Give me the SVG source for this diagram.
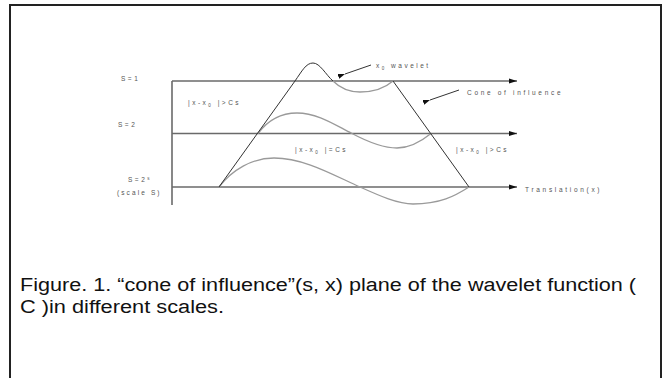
<svg xmlns="http://www.w3.org/2000/svg" width="662" height="378" viewBox="0 0 662 378">
<defs>
<marker id="ah" markerWidth="8" markerHeight="6" refX="8" refY="3" orient="auto" markerUnits="userSpaceOnUse">
<path d="M0,0.5 L8,3 L0,5.5 Z" fill="#111"/>
</marker>
<marker id="ptr" markerWidth="7" markerHeight="5" refX="0" refY="2.5" orient="auto-start-reverse" markerUnits="userSpaceOnUse">
<path d="M7,0 L0,2.5 L7,5 Z" fill="#111"/>
</marker>
</defs>
<style>
.lbl{font-family:"Liberation Sans",Arial,sans-serif;font-size:6.5px;fill:#555;letter-spacing:2.5px;}
.sub{font-size:4.5px;}
.axis{stroke:#6a6a6a;stroke-width:1.6;fill:none;}
.wave{stroke:#9a9a9a;stroke-width:1.3;fill:none;}
.dark{stroke:#333;stroke-width:1;fill:none;}
.cap{font-family:"Liberation Sans",Arial,sans-serif;font-size:18px;fill:#111;}
</style>
<rect width="662" height="378" fill="#fff"/>
<rect x="10" y="5" width="651" height="380" fill="none" stroke="#222" stroke-width="2"/>

<g id="axes">
<line class="axis" x1="172" y1="81" x2="172" y2="205"/>
<line class="axis" x1="172" y1="81" x2="517" y2="81" marker-end="url(#ah)"/>
<line class="axis" x1="172" y1="133.5" x2="517" y2="133.5" marker-end="url(#ah)"/>
<line class="axis" x1="172" y1="187" x2="517" y2="187" marker-end="url(#ah)"/>
</g>

<g id="wavelets">
<path class="dark" d="M295,81 C302,71 306,63 313,63 C320,63 326,75 333,81"/>
<path class="wave" d="M333,81 C340,88 348,92 360,92 C375,92 385,88 393,81"/>
<path class="wave" d="M258,133.5 C268,120 282,113 297,113 C318,113 335,125 352,133.5 C368,142 382,148 397,148 C412,148 423,140 431,133.5"/>
<path class="wave" d="M219,187 C232,170 252,158 274,158 C305,158 335,176 360,187 C380,196 398,204 413,204 C440,204 455,196 469,187"/>
</g>

<g id="connectors">
<line class="dark" x1="219" y1="187" x2="295" y2="81"/>
<line class="dark" x1="393" y1="81" x2="469" y2="187"/>
<line class="dark" x1="371" y1="65" x2="345" y2="74" stroke-width="1.4" marker-end="url(#ptr)"/>
<line class="dark" x1="459" y1="90" x2="430" y2="100" stroke-width="1.4" marker-end="url(#ptr)"/>
</g>

<g id="labels">
<text class="lbl" x="121" y="81">S=1</text>
<text class="lbl" x="118" y="127">S=2</text>
<text class="lbl" x="128" y="182">S=2<tspan class="sub" dy="-2.5">s</tspan></text>
<text class="lbl" x="117" y="195" textLength="45" lengthAdjust="spacing">(scale S)</text>
<text class="lbl" x="188" y="105">|x-x<tspan class="sub" dy="1.5">0</tspan><tspan dy="-1.5"> |&gt;Cs</tspan></text>
<text class="lbl" x="295" y="152">|x-x<tspan class="sub" dy="1.5">0</tspan><tspan dy="-1.5"> |=Cs</tspan></text>
<text class="lbl" x="456" y="152">|x-x<tspan class="sub" dy="1.5">0</tspan><tspan dy="-1.5"> |&gt;Cs</tspan></text>
<text class="lbl" x="376" y="68">x<tspan class="sub" dy="1.5">0</tspan><tspan dy="-1.5"> wavelet</tspan></text>
<text class="lbl" x="467" y="95" textLength="96" lengthAdjust="spacing">Cone of influence</text>
<text class="lbl" x="525" y="192" textLength="77" lengthAdjust="spacing">Translation(x)</text>
</g>

<g id="caption">
<text class="cap" x="20" y="291" textLength="616" lengthAdjust="spacingAndGlyphs">Figure. 1. “cone of influence”(s, x) plane of the wavelet function (</text>
<text class="cap" x="20" y="313" textLength="204" lengthAdjust="spacingAndGlyphs">C )in different scales.</text>
</g>
</svg>
